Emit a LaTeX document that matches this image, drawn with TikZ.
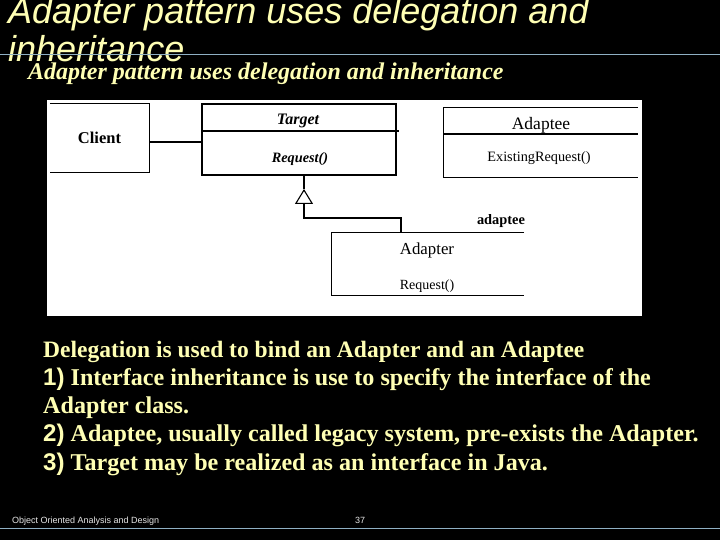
\documentclass[tikz,border=0pt]{standalone}
\usepackage{fontspec}
\setmainfont{Liberation Serif}
\newfontfamily\arialfont{Liberation Sans}
\usepackage{xcolor}
\usepackage{tikz}
\usetikzlibrary{arrows.meta, positioning}

\definecolor{paleyellow}{HTML}{FFFFB4}
\definecolor{rulecol}{HTML}{8FB0C4}
\definecolor{footcol}{HTML}{E6E6E6}

\begin{document}
\begin{tikzpicture}[x=1pt, y=-1pt,
    every node/.style={inner sep=0pt},
    line/.style={text=paleyellow, anchor=base west},
    umlline/.style={line width=1.2pt},
    inherit/.style={umlline, -{Triangle[open, length=15pt, width=18pt, line width=1.1pt]}}]

    % Sfondo
    \useasboundingbox (0,0) rectangle (720,540);
    \fill[black] (0,0) rectangle (720,540);

    % Titolo
    \node[line] (title1) at (8,24) {\arialfont\itshape\fontsize{36}{43}\selectfont Adapter pattern uses delegation and};
    \node[line] (title2) at (8,62) {\arialfont\itshape\fontsize{36}{43}\selectfont inheritance};
    \draw[rulecol, line width=1pt] (0,55) -- (720,55);
    \node[line] (subtitle) at (28,80) {\bfseries\itshape\fontsize{24}{26}\selectfont Adapter pattern uses delegation and inheritance};

    % Diagramma
    \fill[white] (47,100) rectangle (642,316);

    \node[minimum width=99pt, minimum height=68pt] (client) at (99.5,138) {\bfseries\fontsize{16.5}{18}\selectfont Client};
    \draw[umlline] (client.north west) -- (client.north east) -- (client.south east) -- (client.south west);

    \node[draw, umlline, minimum width=194pt, minimum height=71pt] (target) at (299,139.5) {};
    \draw[umlline] (target.west |- 0,131) -- ([xshift=2pt]target.east |- 0,131);
    \node (targetname) at (298,121) {\bfseries\itshape\fontsize{16}{18}\selectfont Target};
    \node (targetop) at (300,159) {\bfseries\itshape\fontsize{14.3}{16}\selectfont Request()};

    \draw[umlline] ([yshift=-4pt]client.east) -- ([yshift=-4pt]client.east -| target.west);

    \node[minimum width=194pt, minimum height=69pt] (adaptee) at (541,142.5) {};
    \draw[umlline] (adaptee.north east) -- (adaptee.north west) -- (adaptee.south west) -- (adaptee.south east);
    \draw[umlline] (adaptee.west |- 0,134) -- (adaptee.east |- 0,134);
    \node (adapteename) at (541,125) {\fontsize{17.5}{19}\selectfont Adaptee};
    \node (adapteeop) at (539,158) {\fontsize{14.3}{16}\selectfont ExistingRequest()};

    \node[minimum width=192pt, minimum height=62pt] (adapter) at (428,264) {};
    \draw[umlline] (adapter.north east) -- (adapter.north west) -- (adapter.south west) -- (adapter.south east);
    \node (adaptername) at (427,250) {\fontsize{16.8}{18}\selectfont Adapter};
    \node (adapterop) at (427,286) {\fontsize{14}{16}\selectfont Request()};

    \node (role) at (501,221) {\bfseries\fontsize{14.4}{16}\selectfont adaptee};

    % Ereditarieta
    \coordinate (gen) at (304,189);
    \coordinate (bend) at (401,218);
    \draw[umlline] (gen) -- (gen |- target.south);
    \draw[inherit] (bend |- adapter.north) -- (bend) -| (gen);

    % Testo
    \begin{scope}[every node/.append style={line, font=\bfseries\fontsize{24.1}{28}\selectfont}]
    \node (t1) at (43,357) {\fontsize{23.5}{28}\selectfont Delegation is used to bind an Adapter and an Adaptee};
    \node (t2) at (43,385) {{\arialfont 1)} Interface inheritance is use to specify the interface of the};
    \node (t3) at (43,413) {Adapter class.};
    \node (t4) at (43,441) {{\arialfont 2)} Adaptee, usually called legacy system, pre-exists the Adapter.};
    \node (t5) at (43,470) {{\arialfont 3)} Target may be realized as an interface in Java.};
    \end{scope}

    % Pie di pagina
    \node[anchor=base west, text=footcol] (foot) at (12,523) {\arialfont\fontsize{9}{10}\selectfont Object Oriented Analysis and Design};
    \node[anchor=base west, text=footcol] (page) at (355,523) {\arialfont\fontsize{9}{10}\selectfont 37};
    \draw[rulecol, line width=1pt] (0,528) -- (720,528);
\end{tikzpicture}
\end{document}
